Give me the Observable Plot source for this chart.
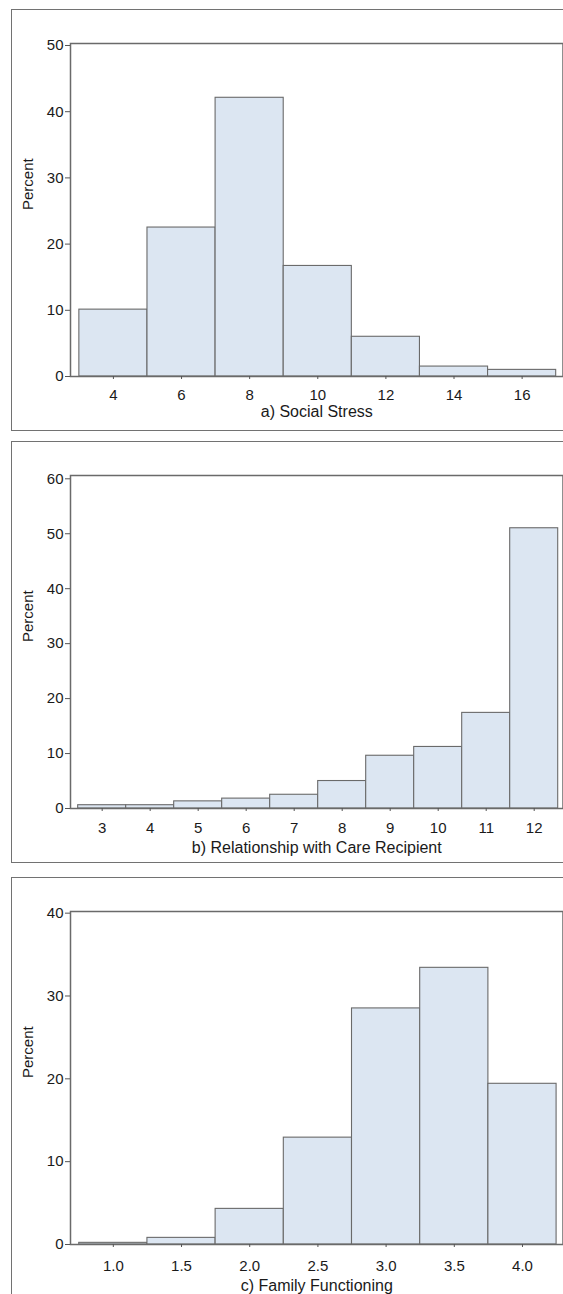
<!DOCTYPE html>
<html>
<head>
<meta charset="utf-8">
<script src="https://cdn.jsdelivr.net/npm/d3@7"></script>
<script src="https://cdn.jsdelivr.net/npm/@observablehq/plot@0.6"></script>
<style>
  html, body { margin: 0; padding: 0; background: #fff; overflow: hidden; }
  #root { position: relative; width: 563px; height: 1294px; overflow: hidden; }
  .box { position: absolute; left: 11px; width: 620px; height: 420px; border: 1.5px solid #727272; box-sizing: border-box; }
  .panel { position: absolute; left: 0; }
  .panel svg { display: block; overflow: visible; }
  .panel svg g[aria-label="x-axis tick label"],
  .panel svg g[aria-label="y-axis tick label"] { font-size: 15px !important; }
</style>
</head>
<body>
<div id="root"></div>
<script>
// ---- Data ----
// a) Social Stress: bins of width 2
const stressBinStart = [3, 5, 7, 9, 11, 13, 15];
const stressBinEnd   = [5, 7, 9, 11, 13, 15, 17];
const stressPct      = [10.1, 22.5, 42.1, 16.7, 6.0, 1.5, 1.0];
const stressTicks    = [4, 6, 8, 10, 12, 14, 16];

// b) Relationship with Care Recipient: integer scores
const relScores = [3, 4, 5, 6, 7, 8, 9, 10, 11, 12];
const relPct    = [0.6, 0.6, 1.3, 1.8, 2.5, 5.0, 9.6, 11.2, 17.4, 51.0];
const relTicks  = [3, 4, 5, 6, 7, 8, 9, 10, 11, 12];

// c) Family Functioning: bins of width 0.5 centred on ticks
const famMid   = [1.0, 1.5, 2.0, 2.5, 3.0, 3.5, 4.0];
const famPct   = [0.2, 0.8, 4.3, 12.9, 28.5, 33.4, 19.4];
const famTicks = [1.0, 1.5, 2.0, 2.5, 3.0, 3.5, 4.0];

const yTicksA = [0, 10, 20, 30, 40, 50];
const yTicksB = [0, 10, 20, 30, 40, 50, 60];
const yTicksC = [0, 10, 20, 30, 40];

const titles = ["a) Social Stress", "b) Relationship with Care Recipient", "c) Family Functioning"];

// build tables
const stressData = stressPct.map((p, i) => ({x1: stressBinStart[i], x2: stressBinEnd[i], y: p}));
const relData = relPct.map((p, i) => ({x1: relScores[i] - 0.5, x2: relScores[i] + 0.5, y: p}));
const famData = famPct.map((p, i) => ({x1: famMid[i] - 0.25, x2: famMid[i] + 0.25, y: p}));

const FILL = "#dce6f2", EDGE = "#6a6a6a", FONT = "'Liberation Sans', Arial, Helvetica, sans-serif";

function panel({data, xDomain, yDomain, xTicks, yTicks, title, fmt, pad, titleDy}) {
  return Plot.plot({
    width: 563, height: 422,
    marginTop: 34, marginBottom: 55, marginLeft: 70, marginRight: 0.5,
    style: {fontFamily: FONT, fontSize: "15px", color: "#1a1a1a", background: "transparent"},
    x: {domain: xDomain},
    y: {domain: yDomain},
    marks: [
      Plot.rectY(data, {x1: "x1", x2: "x2", y1: 0, y2: "y", fill: FILL, stroke: EDGE, strokeWidth: 1.1}),
      Plot.frame({stroke: "#6a6a6a", strokeWidth: 1.5}),
      Plot.axisX({ticks: xTicks, tickSize: 3, tickPadding: pad, label: null, tickFormat: fmt, stroke: "#555"}),
      Plot.axisY({ticks: yTicks, tickSize: 5, tickPadding: 2, label: null, stroke: "#555"}),
      Plot.text([title], {frameAnchor: "bottom", dy: titleDy, fontSize: 16, fill: "#1a1a1a"}),
      Plot.text(["Percent"], {frameAnchor: "left", dx: -42, rotate: -90, fontSize: 15, fill: "#1a1a1a"})
    ]
  });
}

const specs = [
  {top: 9, boxH: 422, data: stressData, xDomain: [2.74, 17.2], yDomain: [0, 50.3], xTicks: stressTicks, yTicks: yTicksA, title: titles[0], fmt: d3.format("d"), pad: 10, titleDy: 40},
  {top: 441, boxH: 422, data: relData, xDomain: [2.34, 12.6], yDomain: [0, 60.6], xTicks: relTicks, yTicks: yTicksB, title: titles[1], fmt: d3.format("d"), pad: 11, titleDy: 44},
  {top: 877, boxH: 440, data: famData, xDomain: [0.686, 4.297], yDomain: [0, 40.2], xTicks: famTicks, yTicks: yTicksC, title: titles[2], fmt: d3.format(".1f"), pad: 13, titleDy: 46}
];

const root = document.getElementById("root");
for (const s of specs) {
  const box = document.createElement("div");
  box.className = "box";
  box.style.top = s.top + "px";
  box.style.height = s.boxH + "px";
  root.appendChild(box);
  const wrap = document.createElement("div");
  wrap.className = "panel";
  wrap.style.top = s.top + "px";
  wrap.appendChild(panel(s));
  root.appendChild(wrap);
}
</script>
</body>
</html>
